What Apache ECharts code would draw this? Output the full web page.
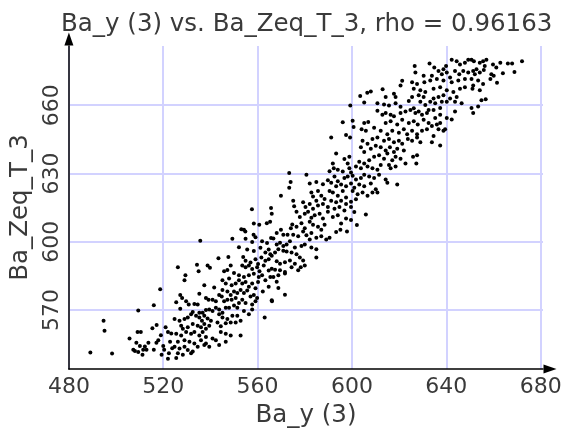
<!DOCTYPE html>
<html>
<head>
<meta charset="utf-8">
<script src="https://cdn.jsdelivr.net/npm/echarts@6/dist/echarts.min.js"></script>
<style>
  html, body { margin: 0; padding: 0; background: #fff; }
  #main { width: 572px; height: 433px; }
</style>
</head>
<body>
<div id="main"></div>
<script>
// Ba_y (3) 对 Ba_Zeq_T_3 的散点
var titleText = 'Ba_y (3) vs. Ba_Zeq_T_3, rho = 0.96163';
var xName = 'Ba_y (3)';
var yName = 'Ba_Zeq_T_3';
var xTicks = [480, 520, 560, 600, 640, 680];
var yTicks = [570, 600, 630, 660];

// 左下段
var pointsLow = [
  [518.7,579.1],[516.0,572.1],[509.4,569.7],[494.7,565.3],[495.1,560.9],[489.1,551.3],[498.3,550.9],[505.7,557.4],
  [509.1,560.3],[510.5,560.3],[515.4,562.0],[517.2,563.4],[521.0,562.4],[519.0,558.9],[522.0,560.3],[523.4,559.6],
  [508.6,555.6],[510.1,554.2],[508.0,552.0],[509.4,551.5],[507.3,552.5],[512.2,553.9],[511.5,552.5],[512.9,552.5],
  [511.2,550.3],[513.7,555.6],[517.1,555.6],[516.0,552.5],[517.9,556.7],[519.3,550.3],[520.4,552.5],[520.0,554.2],
  [522.4,551.0],[523.8,553.2],[522.9,556.0],[522.0,548.5],
  [535.7,600.4],[549.3,601.3],[554.9,601.3],[557.7,599.9],[559.1,601.9],[561.9,600.2],[564.0,599.4],[565.7,601.6],
  [552.1,597.6],[555.6,596.6],[558.4,595.9],[561.2,597.3],[563.3,595.2],[564.7,596.6],[565.4,594.5],
  [543.4,592.7],[547.6,593.3],[553.9,593.3],[554.9,591.6],[557.0,590.9],[559.1,592.3],[560.2,590.2],[561.6,593.0],[563.3,591.6],[564.7,592.3],
  [526.2,588.8],[534.3,589.9],[538.8,589.5],[539.8,588.5],[548.6,589.5],[553.5,589.5],[554.9,588.8],[556.3,589.5],[557.7,588.0],[559.8,588.8],[560.8,587.0],[562.6,589.5],[564.7,587.3],
  [529.4,585.2],[529.0,583.1],[535.0,587.0],[545.8,587.0],[547.2,587.6],[550.0,586.2],[552.1,585.2],[554.2,584.5],[556.3,585.2],[558.4,585.9],[560.5,584.5],[561.9,585.2],[563.3,583.1],[565.4,584.5],
  [537.4,580.9],[541.6,579.9],[545.1,583.1],[546.5,581.6],[547.9,583.8],[549.0,580.9],[550.7,581.6],[552.1,583.1],[553.5,581.6],[554.9,582.3],[556.3,580.2],[557.7,581.6],[559.1,579.5],[560.2,582.3],[562.2,578.1],[564.7,580.2],
  [527.2,576.6],[528.0,575.2],[535.3,577.1],[543.7,576.6],[545.1,578.8],[547.2,578.1],[548.6,576.6],[550.0,578.1],[551.4,577.4],[552.8,578.8],[554.2,577.4],[555.6,578.5],[557.0,575.9],[558.4,576.6],[559.8,575.2],[566.1,573.8],
  [525.5,573.4],[529.7,573.8],[530.8,572.4],[533.2,572.6],[534.6,572.4],[538.1,575.2],[539.2,574.5],[540.9,574.5],[542.3,573.8],[544.8,575.9],[545.8,573.8],[547.2,574.5],[549.0,574.5],[550.7,575.2],[552.1,573.1],[553.5,574.5],[554.9,573.1],[557.7,572.4],[559.1,573.8],
  [527.2,570.5],[531.8,568.1],[532.5,569.1],[535.3,568.8],[536.7,568.8],[538.1,570.0],[539.5,570.2],[540.9,569.5],[542.3,571.0],[543.7,570.2],[545.1,568.8],[546.5,571.0],[547.9,571.0],[550.0,571.9],[551.4,571.0],[554.2,569.5],[556.3,568.1],[557.7,570.2],[563.0,566.7],
  [524.8,566.0],[526.9,565.2],[529.0,566.0],[530.4,566.7],[533.9,567.4],[535.3,566.7],[536.4,565.2],[537.4,567.4],[538.8,566.2],[540.2,565.2],[543.7,568.1],[545.1,566.7],[547.2,566.0],[549.3,567.4],[551.4,567.4],[552.8,565.2],[550.7,564.5],
  [527.6,563.1],[528.3,561.7],[530.4,562.4],[532.5,563.8],[534.6,563.1],[536.0,562.4],[537.4,563.8],[538.1,561.7],[539.5,563.1],[543.0,564.5],[544.4,562.8],[546.5,564.2],[548.6,564.5],
  [525.5,559.5],[527.6,558.8],[529.7,560.3],[531.8,559.5],[533.2,560.3],[535.3,558.8],[536.7,560.3],[538.1,558.1],[544.4,560.3],[546.5,559.5],[548.6,558.8],[552.8,558.8],
  [526.2,556.0],[529.0,556.7],[531.1,556.0],[533.2,555.3],[536.0,556.7],[538.1,555.3],[540.9,557.4],[542.3,556.7],[546.5,556.0],
  [524.8,553.8],[526.9,553.1],[529.0,553.8],[530.4,552.4],[532.5,551.7],[534.6,553.8],[537.4,554.6],[539.5,553.8],[543.7,554.6],
  [526.2,551.0],[528.3,550.3],[531.8,551.0],[525.5,548.9]
];

// 中段
var pointsMid = [
  [573.4,630.2],[580.7,629.4],[590.5,630.9],
  [574.0,626.2],[573.4,623.7],[582.1,625.6],[584.9,626.2],[587.7,625.2],[589.8,627.0],
  [569.9,620.2],[575.1,618.0],[582.8,621.6],[583.5,619.9],[585.6,622.3],[587.0,620.2],[588.4,618.8],[590.5,622.3],
  [565.7,614.8],[575.5,615.6],[579.3,617.3],[580.3,615.2],[582.1,616.6],[583.5,614.5],[584.9,618.0],[585.6,615.9],[587.7,616.6],[589.8,615.2],
  [557.6,614.2],[566.0,612.3],[576.5,613.1],[577.9,610.9],[580.0,612.3],[581.4,613.1],[582.8,610.5],[584.2,611.6],[586.3,612.3],[587.7,610.2],[589.8,613.1],
  [560.7,607.4],[563.9,608.1],[565.3,608.8],[574.7,607.6],[574.1,605.9],[576.5,606.6],[578.6,608.1],[580.0,605.9],[582.1,608.8],[583.5,607.4],[585.6,606.6],[587.0,605.2],[588.4,607.4],
  [558.3,603.1],[569.9,605.2],[568.1,603.8],[566.7,601.4],[570.9,603.1],[572.7,603.1],[575.1,603.1],[577.2,602.4],[579.3,604.5],[580.7,602.8],[582.8,603.8],[584.9,601.7],[582.1,601.0],[587.0,602.4],[589.1,601.0],[590.5,601.7],
  [568.1,598.8],[569.5,599.5],[570.9,598.1],[572.3,598.8],[573.7,600.2],[575.8,597.4],[578.6,598.1],[580.0,598.8],[582.8,597.4],[584.9,596.7],
  [566.0,593.8],[567.4,595.2],[568.8,596.7],[570.9,596.0],[572.3,595.7],[574.4,595.2],[576.5,594.5],[577.9,593.1],[579.3,591.7],[584.9,593.1],
  [568.1,591.4],[569.5,590.3],[571.6,591.0],[573.7,591.7],[575.8,590.3],[577.2,587.4],[578.3,588.8],[580.0,589.5],
  [566.0,588.1],[567.4,587.7],[569.5,587.4],[571.6,586.7],[574.4,588.8],
  [566.7,584.5],[568.8,585.3],[571.6,586.0],[568.1,582.4],[568.8,579.6],[571.6,576.7],[566.0,574.3],
  [554.2,605.2],[553.1,605.5],[554.8,604.5],[558.4,608.0]
];

// 右上段
var pointsHigh = [
  [599.3,659.8],[605.2,661.2],[610.8,660.8],[613.6,660.3],[615.7,659.8],[618.5,660.8],[620.6,659.3],[624.1,661.8],[626.2,658.6],[629.0,661.5],[631.1,660.1],[632.5,657.9],
  [610.8,657.5],[612.9,655.8],[614.3,656.5],[616.4,655.8],[617.8,655.1],[620.6,656.5],[622.7,657.2],[624.8,657.9],[626.9,656.5],[628.3,657.2],[629.7,655.8],[631.8,656.5],
  [596.1,652.5],[600.3,653.2],[600.7,650.4],[605.2,652.2],[606.9,652.6],[614.3,652.2],[616.4,652.9],[619.2,651.5],[621.3,653.6],[624.1,652.2],[626.2,652.9],[627.9,651.5],[630.4,653.6],[632.5,652.2],
  [597.5,646.9],[599.2,645.8],[604.1,649.4],[605.9,648.7],[609.4,650.1],[612.2,648.7],[615.0,647.2],[617.1,648.7],[619.9,647.9],[622.0,649.4],[623.4,647.2],[625.5,648.7],[627.6,647.2],[629.7,648.7],[631.8,649.4],
  [591.2,645.8],[604.5,644.4],[606.6,643.0],[608.7,645.1],[610.8,645.8],[613.6,644.4],[615.7,645.1],[617.8,643.7],[619.9,644.4],[621.3,643.0],[623.7,645.1],[625.5,644.4],[627.6,645.8],[629.0,643.7],
  [593.3,638.7],[596.8,636.3],[598.9,637.3],[603.8,641.5],[605.2,639.4],[608.0,640.8],[610.1,642.2],[612.2,641.5],[614.3,640.1],[616.1,641.5],[617.8,639.4],[619.2,640.8],[622.0,640.1],[625.9,637.3],[627.6,638.0],[627.3,634.4],
  [591.9,634.4],[598.2,634.4],[598.9,632.3],[603.1,635.1],[605.2,634.4],[607.3,635.8],[609.4,637.3],[611.5,638.0],[613.6,636.5],[615.0,638.7],[617.1,635.8],[618.5,637.3],[620.6,636.5],[622.7,634.4],
  [592.3,632.3],[594.0,631.6],[596.1,630.8],[599.6,630.4],[601.7,633.0],[603.8,632.3],[606.6,633.0],[608.7,632.3],[610.8,631.6],[612.2,633.7],[615.7,633.7],[616.4,632.3],[618.5,633.0],
  [592.6,628.7],[594.0,626.6],[596.8,628.0],[598.2,628.7],[600.3,629.0],[601.7,627.3],[603.8,628.0],[605.2,629.4],[607.3,628.7],[609.4,628.0],[611.5,629.4],[614.3,627.3],[615.0,625.9],[619.2,625.1],
  [591.2,625.9],[593.3,624.4],[595.4,625.1],[597.5,624.4],[599.6,625.6],[601.0,623.7],[603.1,625.1],[605.2,624.4],[608.0,625.6],[610.1,623.0],[610.8,621.6],[608.7,621.6],
  [591.9,621.6],[594.0,620.2],[596.1,622.3],[597.5,619.4],[600.3,622.3],[602.4,620.9],[604.5,621.6],[606.6,620.2],
  [591.2,618.0],[593.3,617.3],[595.4,618.0],[597.5,616.6],[599.6,617.6],[601.7,618.7],
  [592.6,614.5],[594.7,615.2],[596.8,613.7],[599.6,615.2],[601.0,613.0],[605.9,611.9],
  [591.9,610.9],[594.0,611.6],[597.5,610.2],[599.6,609.5],[595.4,608.0],
  [593.3,604.2],[595.1,605.2],[597.9,604.5],[602.1,607.3],
  [626.6,677.2],[632.9,678.3],[634.9,676.5],[638.8,675.8],[639.9,677.2],[642.3,680.0],[644.4,679.3],[645.8,677.9],[647.9,678.6],[649.3,680.0],
  [626.9,674.3],[630.4,672.9],[633.9,672.9],[636.7,675.0],[638.1,673.6],[640.2,674.3],[641.6,672.2],[643.7,675.0],[645.5,673.6],[647.2,675.0],[649.3,674.3],
  [625.5,670.1],[627.6,669.3],[630.7,670.1],[633.2,670.8],[636.0,671.5],[638.8,670.8],[642.3,670.1],[645.1,670.8],[647.9,671.5],
  [626.2,667.2],[629.0,666.5],[631.1,665.8],[634.6,667.2],[637.4,667.9],[640.2,666.5],[643.0,665.8],[645.8,667.2],[647.9,667.9],
  [625.5,663.6],[628.3,664.4],[630.4,663.6],[634.6,662.9],[636.7,663.6],[638.8,664.4],[641.6,662.9],[644.4,663.6],[646.5,660.8],
  [633.2,661.5],[635.3,660.8],[638.1,661.5],[640.2,661.5],[643.7,661.5],
  [634.6,657.9],[637.4,658.7],[643.7,657.2],[635.3,654.4],[637.4,655.8],[642.3,653.7],[640.2,654.4],
  [633.9,650.8],[636.0,651.5],[637.4,652.2],[639.5,649.4],[634.6,646.5],[636.7,649.4],[638.8,648.7],[633.9,643.7],[637.4,642.3],
  [650.7,680.0],[651.7,679.3],[654.2,678.6],[655.6,679.3],[657.0,680.0],[656.3,677.2],[659.8,677.9],[661.2,676.5],[662.9,678.6],[666.1,678.3],[667.9,678.3],[672.1,679.3],
  [651.4,675.0],[652.8,675.8],[652.1,673.6],[654.2,674.3],[655.9,675.5],[659.1,673.6],[660.1,672.9],[664.0,674.0],[668.9,674.6],
  [650.7,671.5],[653.5,670.8],[655.6,669.3],[658.7,671.5],[661.5,669.8],[651.4,668.6],[654.2,666.5],[651.1,667.2],
  [654.9,662.2],[656.7,662.6],[653.5,659.4],[650.7,658.7],[651.4,656.5],
  [621.3,670.7],[620.6,668.6],[617.8,665.0],[618.5,663.6],[614.3,663.6],[608.0,666.0],[613.0,667.0],[606.5,665.5],[603.5,664.0]
];

var chart = echarts.init(document.getElementById('main'));

var textColor = '#3a3a3a';
var fontFamily = 'DejaVu Sans';
var gridColor = '#d2d2ff';

var option = {
  animation: false,
  title: {
    text: titleText,
    left: 56,
    top: 7,
    textStyle: { fontFamily: fontFamily, fontSize: 24.5, fontWeight: 'normal', color: textColor }
  },
  grid: { left: 65, right: 29, top: 46, bottom: 55, containLabel: false },
  xAxis: {
    type: 'value',
    min: 480,
    max: 681,
    interval: 40,
    name: xName,
    nameLocation: 'middle',
    nameGap: 29,
    nameTextStyle: { fontFamily: fontFamily, fontSize: 24.5, color: textColor },
    axisLine: { show: true, onZero: false, symbol: ['none', 'triangle'], symbolSize: [9, 13], symbolOffset: [0, 7],
      lineStyle: { color: '#000', width: 1.5 } },
    axisTick: { show: false, customValues: xTicks },
    axisLabel: { margin: 7, fontFamily: fontFamily, fontSize: 22, color: textColor,
      alignMinLabel: 'center', alignMaxLabel: 'center', customValues: xTicks },
    splitLine: { show: true, lineStyle: { color: gridColor, width: 2 } }
  },
  yAxis: {
    type: 'value',
    min: 544,
    max: 686,
    name: yName,
    nameLocation: 'middle',
    nameGap: 30,
    nameTextStyle: { fontFamily: fontFamily, fontSize: 24.5, color: textColor },
    axisLine: { show: true, onZero: false, symbol: ['none', 'triangle'], symbolSize: [9, 13], symbolOffset: [0, 7],
      lineStyle: { color: '#000', width: 1.5 } },
    axisTick: { show: false, customValues: yTicks },
    axisLabel: { rotate: 90, margin: 6, fontFamily: fontFamily, fontSize: 22, color: textColor,
      customValues: yTicks },
    splitLine: { show: true, lineStyle: { color: gridColor, width: 2 } }
  },
  series: [{
    type: 'scatter',
    symbolSize: 4,
    itemStyle: { color: '#000', opacity: 1 },
    data: pointsLow.concat(pointsMid, pointsHigh)
  }]
};

chart.setOption(option);
</script>
</body>
</html>
